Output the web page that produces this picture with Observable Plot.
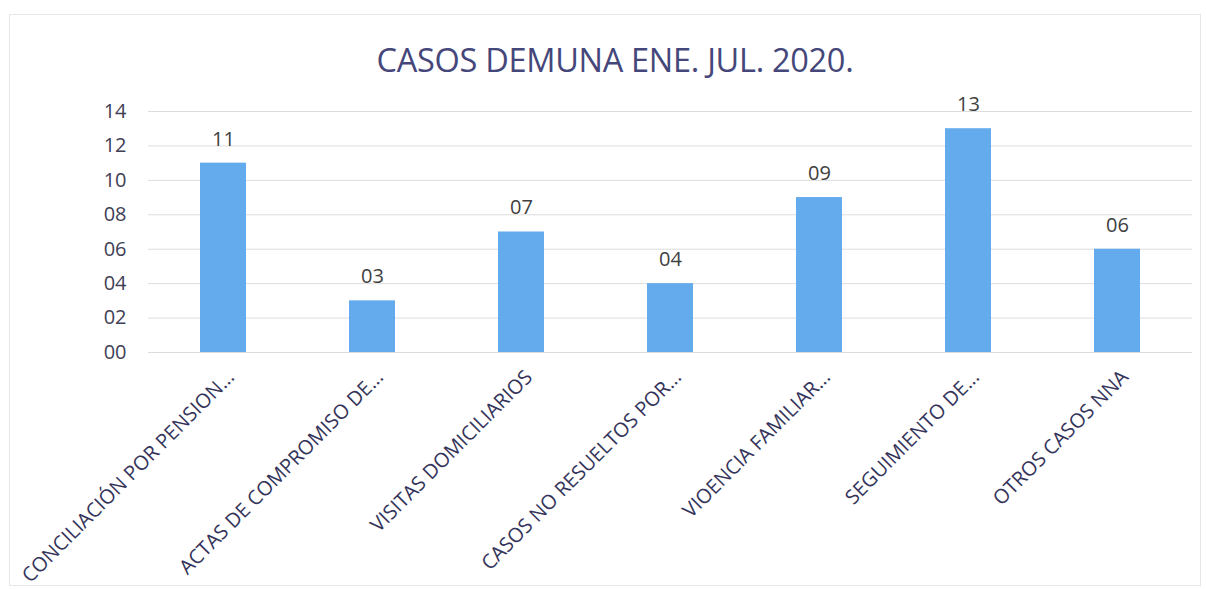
<!DOCTYPE html>
<html>
<head>
<meta charset="utf-8">
<script src="https://cdn.jsdelivr.net/npm/d3@7"></script>
<script src="https://cdn.jsdelivr.net/npm/@observablehq/plot@0.6"></script>
<style>
  html, body { margin: 0; padding: 0; background: #fff; }
  #wrap { position: relative; width: 1206px; height: 589px; overflow: hidden; }
  #frame { position: absolute; left: 9px; top: 14px; width: 1192px; height: 572px; border: 1px solid #e6e6e6; box-sizing: border-box; }
  #title { position: absolute; left: 0; top: 37px; width: 1230px; text-align: center; font-family: "Open Sans", sans-serif; font-size: 32.5px; color: #45477a; letter-spacing: -0.3px; }
  #chart { position: absolute; left: 0; top: 90px; }
</style>
</head>
<body>
<div id="wrap">
  <div id="frame"></div>
  <div id="title">CASOS DEMUNA ENE. JUL. 2020.</div>
  <div id="chart"></div>
</div>
<script>
const categories = [
  "CONCILIACIÓN POR PENSION...",
  "ACTAS DE COMPROMISO DE...",
  "VISITAS DOMICILIARIOS",
  "CASOS NO RESUELTOS POR...",
  "VIOENCIA FAMILIAR...",
  "SEGUIMIENTO DE...",
  "OTROS CASOS NNA"
];
const values = [11, 3, 7, 4, 9, 13, 6];
const yTicks = [0, 2, 4, 6, 8, 10, 12, 14];

const data = categories.map((c, i) => ({category: c, value: values[i]}));
const fmt = d3.format("02d");

const chart = Plot.plot({
  width: 1206,
  height: 499,
  marginTop: 21,
  marginBottom: 237,
  marginLeft: 148,
  marginRight: 14,
  style: {fontFamily: "'Open Sans', sans-serif", background: "transparent"},
  x: {domain: categories, paddingInner: 0.69, paddingOuter: 0.345},
  y: {domain: [0, 14]},
  marks: [
    Plot.ruleY(yTicks, {stroke: "#dcdcdc", strokeWidth: 1}),
    Plot.barY(data, {x: "category", y: "value", fill: "#64abee"}),
    Plot.text(data, {x: "category", y: "value", text: d => fmt(d.value), dy: -24, fontSize: 20, fill: "#404040"}),
    Plot.axisY(yTicks, {tickSize: 0, tickPadding: 0, dx: -22, tickFormat: fmt, fontSize: 20, fill: "#404055", label: null}),
    Plot.axisX({tickSize: 0, tickRotate: -45, textAnchor: "end", lineAnchor: "top", dx: 2, dy: 4, fontSize: 20, fill: "#34345a", label: null})
  ]
});
document.getElementById("chart").appendChild(chart);
</script>
</body>
</html>
